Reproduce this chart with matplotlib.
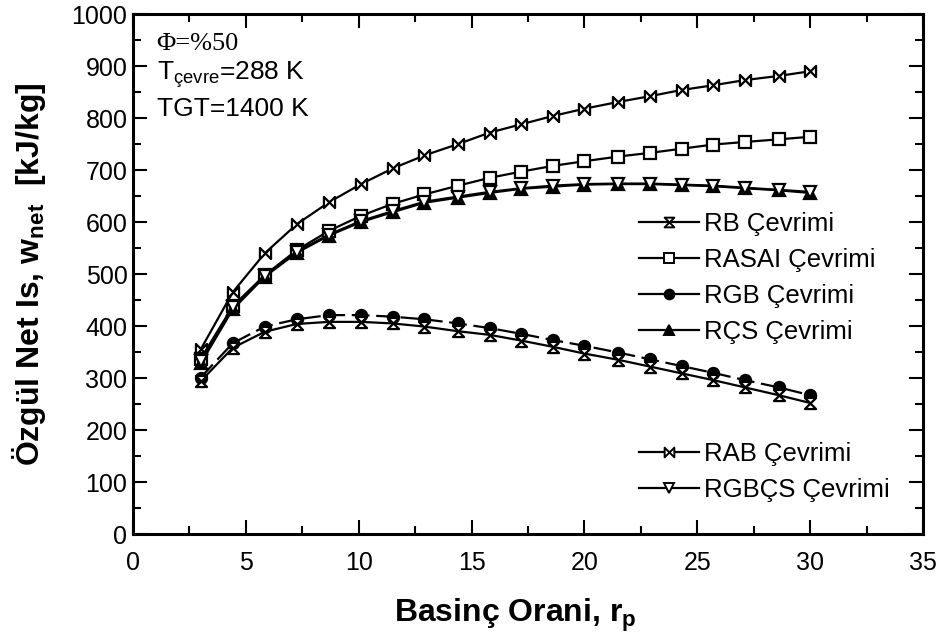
import numpy as np
import matplotlib
matplotlib.use("Agg")
import matplotlib.pyplot as plt
from matplotlib.path import Path
from matplotlib.lines import Line2D

plt.rcParams['font.family'] = ['Liberation Sans', 'DejaVu Sans']
plt.rcParams['mathtext.fontset'] = 'custom'
plt.rcParams['mathtext.rm'] = 'Liberation Sans'
plt.rcParams['mathtext.it'] = 'Liberation Sans:italic'
plt.rcParams['mathtext.bf'] = 'Liberation Sans:bold'

# pressure ratio, 20 points between 3 and 30
rp = [3.0, 4.42, 5.84, 7.26, 8.68, 10.1, 11.5, 12.9, 14.4, 15.8,
      17.2, 18.6, 20.0, 21.5, 22.9, 24.3, 25.7, 27.1, 28.6, 30.0]

w_rab = [355, 465, 540, 596, 638, 673, 703, 728, 750, 772,
         788, 804, 818, 831, 842, 854, 863, 873, 881, 890]
w_rasai = [337, 438, 498, 546, 583, 612, 635, 653, 670, 685,
           697, 708, 717, 726, 733, 741, 749, 754, 759, 764]
w_rcs = [328, 432, 495, 541, 574, 600, 619, 637, 647, 656,
         664, 668, 672, 673, 673, 671, 669, 665, 661, 656]
w_rgbcs = [333, 436, 497, 543, 576, 602, 621, 639, 649, 658,
           665, 670, 673, 674, 674, 672, 670, 666, 662, 658]
w_rgb = [301, 367, 399, 413, 421, 421, 418, 413, 405, 396,
         385, 373, 362, 349, 336, 323, 310, 296, 282, 267]
w_rb = [294, 358, 389, 404, 408, 408, 405, 399, 390, 383,
        372, 360, 347, 335, 322, 309, 296, 282, 267, 252]

# custom markers
hourglass = Path([(-1, 1), (1, 1), (-1, -1), (1, -1), (-1, 1)],
                 [Path.MOVETO, Path.LINETO, Path.LINETO, Path.LINETO, Path.CLOSEPOLY])
bowtie = Path([(-1, -1), (-1, 1), (1, -1), (1, 1), (-1, -1)],
              [Path.MOVETO, Path.LINETO, Path.LINETO, Path.LINETO, Path.CLOSEPOLY])

fig = plt.figure(figsize=(9.41, 6.39), dpi=100)
ax = fig.add_axes([0.1413, 0.1643, 0.8397, 0.8137])

lw = 1.6
ms = 8
style = dict(color='k', lw=lw, mec='k', mew=1.6)

ax.plot(rp, w_rab, marker=bowtie, ms=ms, mfc='white', **style)
ax.plot(rp, w_rasai, marker='s', ms=ms, mfc='white', **style)
ax.plot(rp, w_rcs, marker='^', ms=ms, mfc='k', **style)
ax.plot(rp, w_rgbcs, marker='v', ms=ms, mfc='white', **style)
ax.plot(rp, w_rgb, marker='o', ms=ms, mfc='k', dashes=(8, 3), **style)
ax.plot(rp, w_rb, marker=hourglass, ms=ms, mfc='white', **style)

ax.set_xlim(0, 35)
ax.set_ylim(0, 1000)
ax.set_xticks(np.arange(0, 36, 5))
ax.set_xticks(np.arange(0, 35, 2.5), minor=True)
ax.set_yticks(np.arange(0, 1001, 100))
ax.set_yticks(np.arange(0, 1000, 50), minor=True)
ax.tick_params(which='both', direction='in', top=True, right=True, labelsize=18, width=1.5)
ax.tick_params(which='major', length=10)
ax.tick_params(which='minor', length=6)
ax.tick_params(axis='x', which='major', pad=12)
ax.tick_params(axis='y', which='major', pad=4)
for sp in ax.spines.values():
    sp.set_linewidth(2.2)

ax.set_xlabel('Basinç Orani, r$_\\mathbf{p}$', fontsize=23, fontweight='bold', labelpad=16)
ax.xaxis.label.set_x(0.484)
ax.set_ylabel('Özgül Net Is, w$_\\mathbf{net}$  [kJ/kg]', fontsize=23, fontweight='bold', labelpad=17)

ax.text(0.030, 0.943, 'Φ=%50', transform=ax.transAxes, fontsize=19,
        family='Liberation Serif', va='center')
ax.text(0.030, 0.883, 'T$_\\mathregular{çevre}$=288 K', transform=ax.transAxes, fontsize=19, va='center')
ax.text(0.030, 0.818, 'TGT=1400 K', transform=ax.transAxes, fontsize=19, va='center')

def handle(marker, fill):
    return Line2D([], [], color='k', lw=lw, marker=marker, ms=7, mfc=fill, mec='k', mew=1.4)

leg1 = fig.legend([handle(hourglass, 'white'), handle('s', 'white'),
                   handle('o', 'k'), handle('^', 'k')],
                  ['RB Çevrimi', 'RASAI Çevrimi', 'RGB Çevrimi', 'RÇS Çevrimi'],
                  loc='center left', bbox_to_anchor=(0.665, 0.565), frameon=False,
                  fontsize=18.5, handlelength=2.35, handletextpad=0.2, borderpad=0,
                  labelspacing=0.47)
leg2 = fig.legend([handle(bowtie, 'white'), handle('v', 'white')],
                  ['RAB Çevrimi', 'RGBÇS Çevrimi'],
                  loc='center left', bbox_to_anchor=(0.665, 0.261), frameon=False,
                  fontsize=18.5, handlelength=2.35, handletextpad=0.2, borderpad=0,
                  labelspacing=0.47)

fig.savefig('out.png', dpi=100)
